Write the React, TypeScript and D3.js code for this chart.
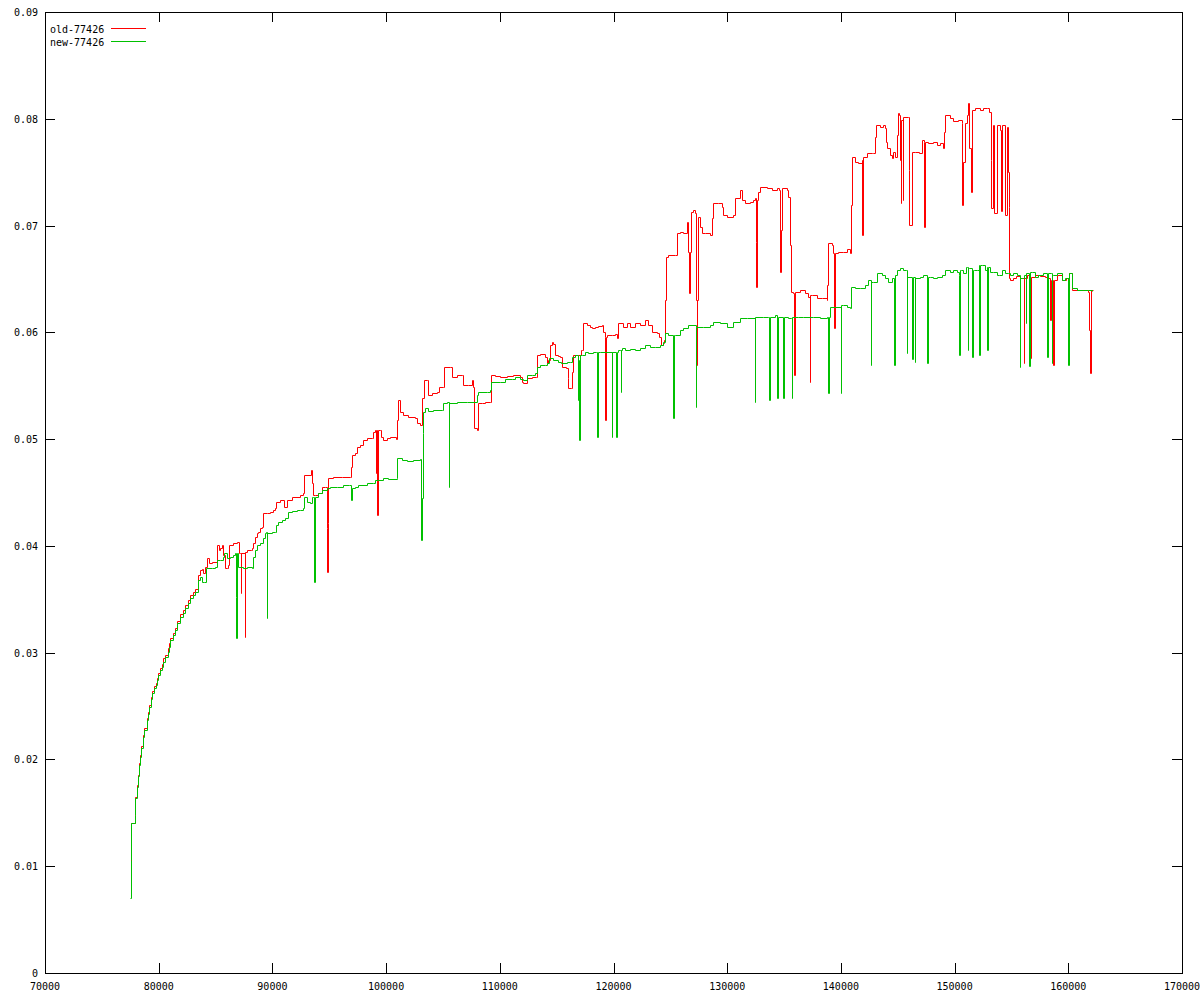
import React from "react";
import * as d3 from "d3";

const xTicks = [70000, 80000, 90000, 100000, 110000, 120000, 130000, 140000, 150000, 160000, 170000];
const yTicks = [0, 0.01, 0.02, 0.03, 0.04, 0.05, 0.06, 0.07, 0.08, 0.09];
const seriesNames = ["old-77426", "new-77426"];
const seriesColors = ["#ff0000", "#00c000"];

const oldSeries: [number, number][] = [
  [77564, 0.0103], [77590, 0.01405], [77915, 0.0148], [77920, 0.01648], [78065, 0.01761], [78153, 0.01854],
  [78241, 0.01967], [78355, 0.02042], [78443, 0.02126], [78592, 0.02229], [78733, 0.02294], [78944, 0.02388],
  [79032, 0.02444], [79173, 0.0251], [79296, 0.02585], [79437, 0.02641], [79613, 0.02688], [79736, 0.02716],
  [79824, 0.02763], [79965, 0.0281], [80114, 0.02856], [80264, 0.02894], [80404, 0.0295], [80554, 0.02978],
  [80791, 0.03044], [80906, 0.0309], [80994, 0.03137], [81231, 0.03184], [81433, 0.03231], [81636, 0.03296],
  [81873, 0.03362], [82163, 0.03399], [82313, 0.03446], [82550, 0.03493], [82753, 0.0354], [83043, 0.03568],
  [83192, 0.03596], [83430, 0.03727], [83632, 0.03774], [83782, 0.03783], [83870, 0.03746], [84072, 0.03802],
  [84274, 0.03886], [84450, 0.0384], [84687, 0.03849], [85101, 0.04008], [85303, 0.03961], [85391, 0.0398],
  [85541, 0.04008], [85681, 0.03915], [85831, 0.03793], [85980, 0.03793], [86121, 0.03821], [86209, 0.04008],
  [86561, 0.04027], [86860, 0.04036], [87062, 0.04036], [87088, 0.03933], [87194, 0.03933], [87212, 0.03559],
  [87238, 0.03933], [87563, 0.03933], [87590, 0.03147], [87616, 0.03943], [87739, 0.03961], [88091, 0.03961],
  [88179, 0.0398], [88320, 0.04027], [88469, 0.04083], [88619, 0.04121], [88760, 0.0413], [88909, 0.04167],
  [89058, 0.04177], [89199, 0.04308], [89498, 0.04308], [89789, 0.04317], [90079, 0.04336], [90228, 0.04355],
  [90316, 0.04411], [90668, 0.0443], [91020, 0.04364], [91284, 0.0443], [91723, 0.04458], [92427, 0.04476],
  [92717, 0.04495], [92779, 0.04664], [93394, 0.04664], [93400, 0.04711], [93456, 0.04589], [93544, 0.04476],
  [93746, 0.04476], [94037, 0.04495], [94335, 0.04551], [94626, 0.04551], [94775, 0.04167], [94828, 0.03755],
  [94890, 0.04214], [94916, 0.04636], [95356, 0.04645], [96094, 0.04645], [96825, 0.04645], [96886, 0.04739],
  [96974, 0.04851], [97264, 0.0487], [97414, 0.04926], [97704, 0.04945], [97994, 0.04992], [98293, 0.0501],
  [98733, 0.0501], [98874, 0.05066], [99023, 0.05085], [99111, 0.05085], [99138, 0.04683], [99173, 0.05085],
  [99199, 0.05085], [99225, 0.04289], [99260, 0.05085], [99463, 0.05085], [99551, 0.0502], [99753, 0.04992],
  [100052, 0.0501], [100343, 0.0502], [100870, 0.05001], [100985, 0.05179], [101072, 0.05366], [101222, 0.05254],
  [101513, 0.05226], [101953, 0.05207], [102541, 0.05198], [102691, 0.05151], [102981, 0.05132], [103131, 0.05385],
  [103333, 0.05553], [103623, 0.05553], [103711, 0.05413], [104010, 0.05432], [104450, 0.05441], [104678, 0.05488],
  [105030, 0.05488], [105118, 0.05675], [105620, 0.05675], [105769, 0.05582], [106209, 0.056], [106649, 0.056],
  [106789, 0.05507], [107229, 0.05507], [107528, 0.05553], [107616, 0.05488], [107730, 0.05104], [107968, 0.05085],
  [108109, 0.05338], [108407, 0.05338], [108698, 0.05347], [109138, 0.05347], [109226, 0.056], [109577, 0.05591],
  [110017, 0.05582], [110606, 0.05591], [111187, 0.056], [111776, 0.05582], [111926, 0.05535], [112066, 0.05525],
  [112365, 0.05572], [112805, 0.05582], [113183, 0.05582], [113245, 0.05788], [113535, 0.05797], [113975, 0.05769],
  [114125, 0.05713], [114266, 0.05741], [114415, 0.05881], [114564, 0.05909], [114705, 0.05891], [114854, 0.05788],
  [115145, 0.05778], [115294, 0.05769], [115444, 0.05675], [115822, 0.05666], [116024, 0.05572], [116025, 0.05479],
  [116235, 0.05479], [116323, 0.05628], [116464, 0.05788], [116904, 0.05788], [117115, 0.05834], [117256, 0.05834],
  [117344, 0.06087], [117643, 0.06069], [117933, 0.0605], [118082, 0.0604], [118372, 0.0605], [118663, 0.06059],
  [118962, 0.06069], [119050, 0.06003], [119252, 0.05956], [119278, 0.05179], [119305, 0.05956], [119401, 0.05975],
  [119842, 0.05975], [120131, 0.05984], [120281, 0.05947], [120422, 0.06087], [120861, 0.0605], [121160, 0.06087],
  [121451, 0.0605], [121890, 0.06087], [122330, 0.06069], [122770, 0.06115], [123060, 0.06069], [123359, 0.06003],
  [123799, 0.05994], [124027, 0.05956], [124177, 0.05881], [124327, 0.059], [124441, 0.05928], [124529, 0.06303],
  [124591, 0.06705], [124819, 0.06724], [125408, 0.06724], [125558, 0.0693], [125848, 0.06939], [126138, 0.0693],
  [126436, 0.07033], [126552, 0.06752], [126666, 0.06368], [126692, 0.06752], [126789, 0.07127], [127018, 0.07145],
  [127167, 0.07117], [127255, 0.06303], [127317, 0.05694], [127343, 0.06303], [127457, 0.0708], [127607, 0.06986],
  [127757, 0.0693], [128047, 0.0693], [128487, 0.06911], [128636, 0.07071], [128777, 0.07211], [129217, 0.07211],
  [129516, 0.07174], [129657, 0.07099], [129955, 0.0708], [130536, 0.07099], [130685, 0.07258], [131125, 0.07333],
  [131275, 0.07239], [131565, 0.07211], [132005, 0.0722], [132295, 0.07239], [132444, 0.07258], [132505, 0.06846],
  [132558, 0.06424], [132593, 0.07239], [132734, 0.07314], [132884, 0.07361], [133473, 0.07352], [133913, 0.07333],
  [134352, 0.07352], [134581, 0.07333], [134643, 0.06565], [134731, 0.06958], [134793, 0.07352], [135232, 0.07333],
  [135373, 0.07267], [135523, 0.06818], [135584, 0.06378], [135813, 0.06368], [135874, 0.056], [135962, 0.06378],
  [136402, 0.06396], [136842, 0.06368], [137132, 0.06331], [137255, 0.06331], [137282, 0.05535], [137308, 0.06349],
  [137431, 0.06349], [137871, 0.06321], [138311, 0.06321], [138750, 0.06303], [138803, 0.06443], [138891, 0.06836],
  [139190, 0.06818], [139331, 0.06743], [139419, 0.0604], [139480, 0.06743], [139770, 0.06752], [140210, 0.06752],
  [140509, 0.0678], [140800, 0.06743], [140861, 0.07192], [140949, 0.07642], [141239, 0.07595], [141529, 0.07586],
  [141828, 0.07614], [141881, 0.06911], [141969, 0.07642], [142268, 0.07679], [142708, 0.07679], [142849, 0.07679],
  [142998, 0.07829], [143086, 0.07942], [143438, 0.07923], [143675, 0.07942], [143878, 0.07913], [143966, 0.07782],
  [144080, 0.07726], [144318, 0.07661], [144467, 0.07632], [144608, 0.07689], [144757, 0.07642], [144907, 0.07848],
  [144995, 0.08054], [145136, 0.08035], [145197, 0.07614], [145259, 0.07211], [145329, 0.07988], [145435, 0.07239],
  [145487, 0.08016], [145927, 0.08016], [145988, 0.0752], [146014, 0.07005], [146225, 0.07689], [146516, 0.07689],
  [146894, 0.07679], [147105, 0.07801], [147308, 0.07782], [147334, 0.06986], [147396, 0.07782], [147686, 0.07773],
  [148126, 0.07782], [148425, 0.07754], [148715, 0.07773], [148953, 0.07726], [149067, 0.07876], [149155, 0.08035],
  [149595, 0.08007], [149885, 0.07979], [150321, 0.07988], [150621, 0.0796], [150673, 0.07192], [150761, 0.07595],
  [150914, 0.0796], [151063, 0.08035], [151204, 0.08148], [151292, 0.07726], [151414, 0.07314], [151502, 0.08082],
  [151793, 0.08101], [152233, 0.08082], [152523, 0.08101], [152822, 0.08101], [153051, 0.08063], [153174, 0.07614],
  [153227, 0.07164], [153350, 0.07942], [153491, 0.07117], [153702, 0.07942], [153992, 0.07895], [154080, 0.07136],
  [154194, 0.07942], [154432, 0.07099], [154581, 0.07923], [154696, 0.07501], [154757, 0.07174], [154810, 0.06509],
  [154871, 0.0649], [155136, 0.06509], [155399, 0.06527], [155751, 0.06509], [156077, 0.06527], [156103, 0.05713],
  [156129, 0.06509], [156367, 0.06537], [156631, 0.06518], [156657, 0.05759], [156683, 0.06518], [157070, 0.06537],
  [157510, 0.06527], [157950, 0.06518], [158214, 0.06509], [158390, 0.06115], [158478, 0.0649], [158653, 0.0649],
  [158680, 0.05694], [158706, 0.0649], [158979, 0.06537], [159445, 0.0649], [159797, 0.06509], [160061, 0.06556],
  [160324, 0.06396], [161028, 0.06396], [161732, 0.06378], [161846, 0.06022], [161908, 0.05619], [161969, 0.06396],
  [162145, 0.06396],
];

const newSeries: [number, number][] = [
  [77502, 0.00702], [77546, 0.01058], [77590, 0.01405], [77915, 0.0148], [77920, 0.01639], [78065, 0.01742],
  [78153, 0.01845], [78241, 0.01948], [78355, 0.02023], [78443, 0.02107], [78592, 0.0221], [78733, 0.02276],
  [78944, 0.02369], [79032, 0.02426], [79173, 0.02491], [79296, 0.02566], [79437, 0.02622], [79613, 0.02669],
  [79736, 0.02697], [79824, 0.02744], [79965, 0.02791], [80114, 0.02838], [80264, 0.02866], [80404, 0.02913],
  [80554, 0.02959], [80791, 0.03006], [80906, 0.03053], [80994, 0.03118], [81231, 0.03165], [81433, 0.03212],
  [81636, 0.03278], [81873, 0.03334], [82163, 0.03371], [82313, 0.03418], [82550, 0.03465], [82753, 0.03512],
  [83043, 0.0354], [83192, 0.03568], [83430, 0.0368], [83632, 0.03709], [83808, 0.03662], [83984, 0.03662],
  [84160, 0.03793], [84661, 0.03793], [84951, 0.03802], [85101, 0.03868], [85391, 0.03868], [85681, 0.03896],
  [85769, 0.03933], [85980, 0.03886], [86271, 0.03896], [86561, 0.03915], [86710, 0.03933], [86772, 0.03521],
  [86825, 0.03137], [86886, 0.03933], [87001, 0.03802], [87440, 0.03793], [87739, 0.03802], [88179, 0.03793],
  [88320, 0.03896], [88469, 0.03961], [88619, 0.04008], [88909, 0.04027], [89199, 0.04074], [89349, 0.04121],
  [89454, 0.0413], [89498, 0.03325], [89569, 0.04121], [89938, 0.0413], [90228, 0.0413], [90290, 0.04196],
  [90518, 0.04224], [90817, 0.04242], [91108, 0.04261], [91398, 0.04317], [91697, 0.04327], [92137, 0.04336],
  [92427, 0.04336], [92717, 0.04355], [92805, 0.04458], [93016, 0.04411], [93307, 0.04402], [93456, 0.04458],
  [93597, 0.04458], [93658, 0.03662], [93746, 0.04458], [94037, 0.04495], [94335, 0.04523], [94775, 0.04542],
  [95066, 0.04551], [95655, 0.04551], [96235, 0.0457], [96763, 0.0457], [96869, 0.0443], [96974, 0.04542],
  [97264, 0.04551], [97555, 0.0457], [98293, 0.04589], [98874, 0.04589], [99023, 0.04617], [99313, 0.04617],
  [99753, 0.04636], [100193, 0.04626], [100932, 0.04636], [100985, 0.04823], [101372, 0.04804], [101811, 0.04795],
  [102392, 0.04804], [102981, 0.04814], [103043, 0.04055], [103131, 0.04448], [103219, 0.05057], [103271, 0.05254],
  [103421, 0.05291], [103711, 0.05263], [104151, 0.05272], [104890, 0.05272], [105030, 0.05338], [105329, 0.05347],
  [105505, 0.05347], [105532, 0.04551], [105576, 0.05338], [106209, 0.05347], [107088, 0.05347], [107968, 0.05347],
  [108021, 0.05413], [108109, 0.05441], [108847, 0.05441], [109138, 0.0546], [109226, 0.05535], [110017, 0.05535],
  [110457, 0.05563], [111046, 0.05563], [111336, 0.05582], [111776, 0.05563], [112066, 0.05553], [112365, 0.056],
  [112805, 0.056], [113095, 0.05619], [113298, 0.05675], [113535, 0.05694], [113975, 0.05694], [114125, 0.05713],
  [114353, 0.05759], [114705, 0.05741], [115145, 0.05722], [115356, 0.05713], [115883, 0.05722], [116174, 0.05722],
  [116323, 0.05769], [116613, 0.05788], [116860, 0.05788], [116904, 0.05366], [116948, 0.05741], [116991, 0.04992],
  [117035, 0.05788], [117202, 0.05788], [117493, 0.05816], [117783, 0.05806], [118223, 0.05816], [118487, 0.05816],
  [118522, 0.05413], [118548, 0.05741], [118575, 0.0502], [118610, 0.05816], [118812, 0.05816], [119252, 0.05816],
  [119842, 0.05816], [119867, 0.0502], [119894, 0.05816], [120219, 0.05816], [120246, 0.0502], [120281, 0.05816],
  [120422, 0.05834], [120598, 0.05834], [120633, 0.05441], [120659, 0.05834], [120721, 0.05853], [121011, 0.05834],
  [121451, 0.05844], [121890, 0.05834], [122330, 0.05853], [122770, 0.05881], [123210, 0.05862], [123649, 0.05862],
  [124089, 0.05881], [124379, 0.05909], [124529, 0.05994], [124819, 0.05975], [125232, 0.05975], [125259, 0.05198],
  [125294, 0.05975], [125408, 0.05975], [125848, 0.06022], [126138, 0.0604], [126578, 0.06069], [127229, 0.0605],
  [127255, 0.05301], [127282, 0.0605], [127898, 0.0605], [128487, 0.06069], [128777, 0.06097], [129366, 0.06087],
  [129955, 0.0605], [130536, 0.06097], [131125, 0.06134], [131714, 0.06134], [132418, 0.06134], [132444, 0.05347],
  [132471, 0.06143], [133174, 0.06143], [133588, 0.06143], [133676, 0.05366], [133738, 0.06143], [134203, 0.06162],
  [134379, 0.06162], [134405, 0.05385], [134440, 0.06143], [134907, 0.06143], [134933, 0.05385], [134968, 0.06143],
  [135373, 0.06134], [135637, 0.06134], [135672, 0.05385], [135698, 0.06143], [136253, 0.06143], [136692, 0.06143],
  [137572, 0.06143], [138161, 0.06134], [138750, 0.06143], [138865, 0.06143], [138891, 0.05432], [138918, 0.06143],
  [139041, 0.06237], [139480, 0.06237], [139982, 0.06237], [140008, 0.05432], [140034, 0.06256], [140210, 0.06256],
  [140509, 0.06237], [140800, 0.06228], [140888, 0.06424], [141239, 0.06415], [141679, 0.06415], [142119, 0.06443],
  [142409, 0.0649], [142620, 0.0649], [142647, 0.05694], [142673, 0.06471], [142849, 0.06471], [143148, 0.06556],
  [143588, 0.06537], [143878, 0.06509], [144168, 0.06471], [144467, 0.06509], [144669, 0.06509], [144696, 0.05694],
  [144722, 0.06537], [144907, 0.06584], [145197, 0.06602], [145487, 0.06584], [145760, 0.06584], [145787, 0.05806],
  [145813, 0.06518], [146252, 0.06518], [146279, 0.0575], [146305, 0.06518], [146490, 0.06518], [146516, 0.05722],
  [146543, 0.06509], [146956, 0.06518], [147246, 0.06537], [147572, 0.06537], [147598, 0.05713], [147624, 0.06518],
  [147836, 0.06518], [148126, 0.06509], [148425, 0.06518], [148865, 0.06537], [149155, 0.06584], [149595, 0.06565],
  [149885, 0.06584], [150184, 0.06565], [150386, 0.06537], [150413, 0.05788], [150439, 0.06584], [150536, 0.06584],
  [150764, 0.06556], [151002, 0.06612], [151125, 0.06612], [151151, 0.05834], [151178, 0.06602], [151292, 0.06602],
  [151529, 0.06602], [151556, 0.05769], [151582, 0.06584], [151705, 0.06584], [151943, 0.06584], [152145, 0.0663],
  [152171, 0.05788], [152198, 0.0663], [152383, 0.0663], [152673, 0.06584], [152849, 0.06612], [152875, 0.05834],
  [152901, 0.06612], [153112, 0.06565], [153403, 0.06565], [153702, 0.06537], [153930, 0.06537], [154141, 0.06584],
  [154432, 0.06556], [154722, 0.06556], [154871, 0.06537], [155162, 0.06556], [155461, 0.06537], [155725, 0.06537],
  [155751, 0.05675], [155777, 0.06509], [155900, 0.06509], [156103, 0.06537], [156252, 0.06537], [156279, 0.06087],
  [156305, 0.06556], [156543, 0.06556], [156569, 0.05685], [156595, 0.06565], [156780, 0.06565], [157070, 0.06518],
  [157360, 0.06537], [157800, 0.06556], [158126, 0.06556], [158152, 0.05769], [158178, 0.06556], [158240, 0.06556],
  [158513, 0.06556], [158539, 0.05713], [158565, 0.06537], [158680, 0.06537], [158979, 0.06556], [159419, 0.0649],
  [159709, 0.06509], [159973, 0.06509], [159999, 0.05694], [160025, 0.06556], [160087, 0.06556], [160298, 0.06415],
  [160738, 0.06396], [161318, 0.06396], [161758, 0.06396], [162057, 0.06387],
];

const W = 1200;
const H = 1000;
const left = 45;
const right = 1182;
const top = 12;
const bottom = 973;
const FONT = "'DejaVu Sans Mono', monospace";

export default function App() {
  const x = d3.scaleLinear().domain([70000, 170000]).range([left, right]);
  const y = d3.scaleLinear().domain([0, 0.09]).range([bottom, top]);
  const line = d3
    .line<[number, number]>()
    .x((d) => Math.round(x(d[0])) + 0.5)
    .y((d) => Math.round(y(d[1])) + 0.5)
    .curve(d3.curveStepAfter);
  const series = [oldSeries, newSeries];

  return (
    <svg
      width={W}
      height={H}
      style={{ position: "absolute", left: 0, top: 0, background: "#fff" }}
      fontFamily={FONT}
      fontSize={10}
    >
      <rect x={0} y={0} width={W} height={H} fill="#fff" />
      <g shapeRendering="crispEdges" stroke="#000" strokeWidth={1}>
        {xTicks.map((t) => (
          <g key={"xt" + t}>
            <line x1={Math.round(x(t)) + 0.5} x2={Math.round(x(t)) + 0.5} y1={bottom} y2={bottom - 10} />
            <line x1={Math.round(x(t)) + 0.5} x2={Math.round(x(t)) + 0.5} y1={top} y2={top + 10} />
          </g>
        ))}
        {yTicks.map((t) => (
          <g key={"yt" + t}>
            <line x1={left} x2={left + 10} y1={Math.round(y(t)) + 0.5} y2={Math.round(y(t)) + 0.5} />
            <line x1={right} x2={right - 10} y1={Math.round(y(t)) + 0.5} y2={Math.round(y(t)) + 0.5} />
          </g>
        ))}
        <rect x={left + 0.5} y={top + 0.5} width={right - left} height={bottom - top} fill="none" />
      </g>
      {xTicks.map((t) => (
        <text key={"xl" + t} x={x(t)} y={990} textAnchor="middle" fill="#000">
          {String(t)}
        </text>
      ))}
      {yTicks.map((t) => (
        <text key={"yl" + t} x={38} y={y(t) + 4} textAnchor="end" fill="#000">
          {t === 0 ? "0" : t.toFixed(2)}
        </text>
      ))}
      {series.map((s, i) => (
        <path key={"s" + i} d={line(s) || ""} fill="none" stroke={seriesColors[i]} strokeWidth={1} />
      ))}
      {seriesNames.map((n, i) => (
        <g key={"lg" + i}>
          <text x={50} y={33 + i * 12.5} fill="#000">
            {n}
          </text>
          <line
            x1={111}
            x2={146}
            y1={28.5 + i * 13}
            y2={28.5 + i * 13}
            stroke={seriesColors[i]}
            strokeWidth={1}
            shapeRendering="crispEdges"
          />
        </g>
      ))}
    </svg>
  );
}
